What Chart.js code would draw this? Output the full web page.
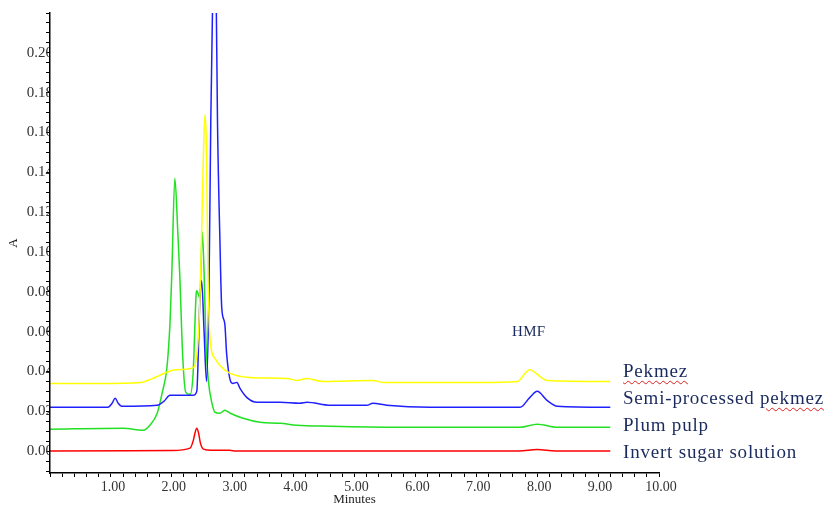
<!DOCTYPE html>
<html>
<head>
<meta charset="utf-8">
<script src="https://cdn.jsdelivr.net/npm/chart.js@4.4.1/dist/chart.umd.min.js"></script>
<style>
    body { margin: 0; background: #fff; }
    #wrap { position: relative; width: 827px; height: 506px; }
    .lbl { position: absolute; font-family: 'Liberation Serif', serif; color: #1b2a5e; line-height: 1; white-space: nowrap; }
    .series { font-size: 19px; left: 623px; letter-spacing: 0.8px; }
    .spell { text-decoration: underline wavy #e02020; text-decoration-thickness: 1px; text-underline-offset: 3px; }
</style>
</head>
<body>
<div id="wrap">
    <canvas id="myChart" width="827" height="506"></canvas>
    <div class="lbl" style="left:512px; top:324px; font-size:15px; letter-spacing:0.3px;">HMF</div>
    <div class="lbl series" style="top:361px;"><span class="spell">Pekmez</span></div>
    <div class="lbl series" style="top:388px;">Semi-processed <span class="spell">pekmez</span></div>
    <div class="lbl series" style="top:415px;">Plum pulp</div>
    <div class="lbl series" style="top:442px;">Invert sugar solution</div>
</div>
<script>
// retention time (min) / absorbance
const pekmezT = [0, 0.8, 1.5, 1.65, 1.8, 2.0, 2.18, 2.36, 2.44, 2.48, 2.52, 2.545, 2.57, 2.59, 2.63, 2.71, 2.79, 2.96, 3.28, 3.89, 4.05, 4.22, 4.48, 5.3, 5.47, 7.06, 7.68, 7.8, 7.88, 7.98, 8.16, 9.2];
const pekmezA = [0.034, 0.034, 0.0345, 0.036, 0.038, 0.0405, 0.041, 0.042, 0.06, 0.096, 0.15, 0.169, 0.15, 0.096, 0.0555, 0.0465, 0.043, 0.039, 0.037, 0.0365, 0.0355, 0.0365, 0.035, 0.0355, 0.0345, 0.0345, 0.035, 0.039, 0.041, 0.039, 0.0355, 0.035];

const semiT = [0, 0.95, 1.02, 1.07, 1.12, 1.18, 1.76, 1.87, 1.97, 2.35, 2.41, 2.46, 2.49, 2.53, 2.57, 2.61, 2.64, 2.67, 2.70, 2.73, 2.75, 2.79, 2.82, 2.87, 2.9, 2.96, 3.0, 3.07, 3.12, 3.23, 3.4, 3.78, 4.1, 4.22, 4.6, 5.2, 5.3, 5.53, 6.24, 7.06, 7.72, 7.88, 8.0, 8.16, 8.33, 9.2];
const semiA = [0.022, 0.022, 0.024, 0.0265, 0.024, 0.0225, 0.023, 0.025, 0.028, 0.028, 0.03, 0.075, 0.0855, 0.06, 0.035, 0.08, 0.165, 0.225, 0.245, 0.225, 0.166, 0.106, 0.072, 0.064, 0.049, 0.0355, 0.034, 0.0345, 0.0315, 0.027, 0.0245, 0.0245, 0.024, 0.0245, 0.023, 0.023, 0.024, 0.023, 0.022, 0.022, 0.022, 0.027, 0.030, 0.0255, 0.0225, 0.022];

const plumT = [0, 1.2, 1.53, 1.64, 1.76, 1.84, 1.92, 1.97, 2.0, 2.05, 2.1, 2.13, 2.18, 2.23, 2.3, 2.35, 2.4, 2.41, 2.46, 2.5, 2.53, 2.56, 2.6, 2.66, 2.71, 2.79, 2.87, 2.96, 3.17, 3.45, 3.78, 4.05, 4.6, 5.7, 7.06, 7.72, 8.0, 8.33, 9.2];
const plumA = [0.011, 0.0115, 0.0105, 0.013, 0.019, 0.029, 0.042, 0.064, 0.089, 0.137, 0.109, 0.089, 0.047, 0.0295, 0.0285, 0.039, 0.079, 0.0805, 0.077, 0.11, 0.09, 0.0555, 0.0355, 0.024, 0.0195, 0.019, 0.0205, 0.019, 0.0165, 0.0145, 0.014, 0.013, 0.0125, 0.012, 0.012, 0.012, 0.0135, 0.012, 0.012];

const invertT = [0, 2.0, 2.3, 2.35, 2.38, 2.41, 2.44, 2.47, 2.52, 2.65, 2.95, 3.05, 7.7, 8.0, 8.3, 9.2];
const invertA = [0, 0.0003, 0.0015, 0.005, 0.009, 0.0115, 0.009, 0.004, 0.001, 0.0004, 0.0004, 0, 0, 0.0008, 0, 0];

const names = ['Pekmez', 'Semi-processed pekmez', 'Plum pulp', 'Invert sugar solution'];
const colors = ['#ffff00', '#2020ff', '#22e022', '#ff0000'];

function pts(t, a) {
    return t.map((v, i) => ({x: v, y: a[i]}));
}

const series = [pts(pekmezT, pekmezA), pts(semiT, semiA), pts(plumT, plumA), pts(invertT, invertA)];

new Chart(document.getElementById('myChart'), {
    type: 'line',
    data: {
        datasets: series.map((d, i) => ({
            label: names[i],
            data: d,
            borderColor: colors[i],
            borderWidth: 1.5,
            pointRadius: 0,
            cubicInterpolationMode: 'monotone',
            fill: false,
        })),
    },
    options: {
        responsive: false,
        animation: false,
        devicePixelRatio: 1,
        layout: {padding: {top: 13, right: 168, left: 0, bottom: 0}},
        plugins: {
            legend: {display: false},
            tooltip: {enabled: false},
        },
        scales: {
            x: {
                type: 'linear',
                min: 0,
                max: 10,
                afterFit: (s) => { s.height = 33; },
                border: {color: '#000', width: 1.5},
                grid: {drawOnChartArea: false, drawTicks: true, tickLength: 4, color: '#000'},
                ticks: {
                    stepSize: 0.2,
                    includeBounds: false,
                    autoSkip: false,
                    maxRotation: 0,
                    padding: 2,
                    labelOffset: 2,
                    color: '#333',
                    font: {family: 'Liberation Serif', size: 14},
                    callback: (v) => {
                        const r = Math.round(v);
                        return (Math.abs(v - r) < 1e-6 && r >= 1) ? r.toFixed(2) : '';
                    },
                },
                title: {
                    display: true,
                    text: 'Minutes',
                    color: '#222',
                    font: {family: 'Liberation Serif', size: 13, lineHeight: 1},
                    padding: 0,
                },
            },
            y: {
                min: -0.011,
                max: 0.22,
                afterFit: (s) => { s.width = 50; },
                border: {color: '#000', width: 1.5, z: 1},
                grid: {drawOnChartArea: false, drawTicks: true, tickLength: 4, color: '#000'},
                ticks: {
                    stepSize: 0.005,
                    includeBounds: false,
                    autoSkip: false,
                    padding: -7,
                    color: '#333',
                    font: {family: 'Liberation Serif', size: 15},
                    callback: (v) => {
                        const k = Math.round(v / 0.02);
                        if (Math.abs(v - k * 0.02) > 1e-6 || k < 0 || k > 10) return '';
                        return (k * 0.02).toFixed(2);
                    },
                },
                title: {
                    display: true,
                    text: 'A',
                    color: '#222',
                    font: {family: 'Liberation Serif', size: 13, lineHeight: 1},
                    padding: {top: 7, bottom: 0},
                },
            },
        },
    },
});
</script>
</body>
</html>
